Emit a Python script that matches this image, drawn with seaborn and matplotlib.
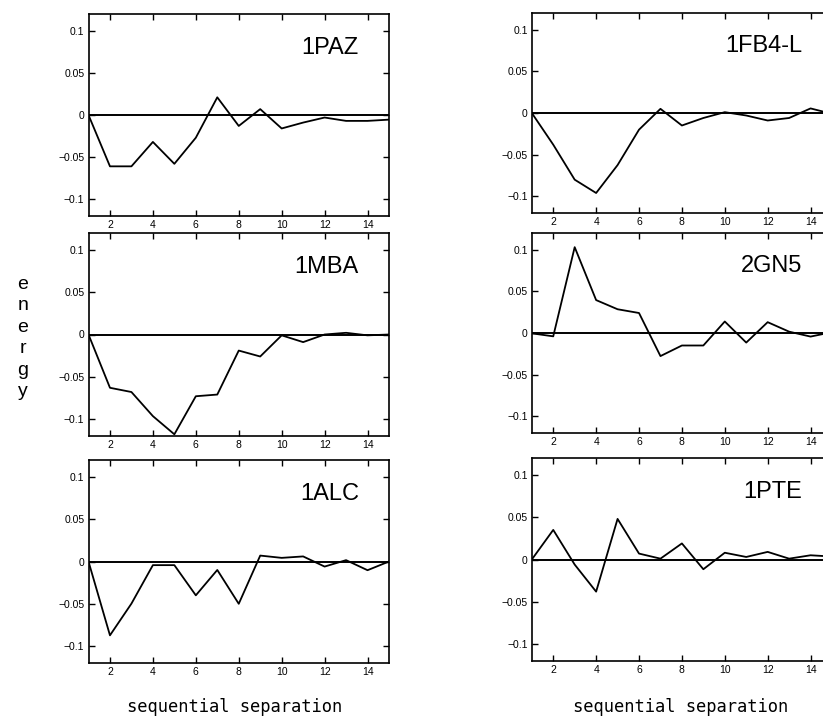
import numpy as np
import pandas as pd
import matplotlib
matplotlib.use("Agg")
import matplotlib.pyplot as plt
import seaborn as sns

sep = list(range(1, 16))

paz = [0, -0.061, -0.061, -0.032, -0.058, -0.027, 0.021, -0.013, 0.007, -0.016, -0.009, -0.003, -0.007, -0.007, -0.0055]
fb4 = [0, -0.038, -0.080, -0.096, -0.0625, -0.020, 0.005, -0.015, -0.006, 0.001, -0.003, -0.009, -0.006, 0.0055, -0.001]
mba = [0, -0.063, -0.068, -0.0965, -0.118, -0.073, -0.071, -0.019, -0.026, -0.001, -0.009, 0.0, 0.002, -0.001, 0.0]
gn5 = [-0.0004, -0.004, 0.103, 0.0395, 0.0285, 0.024, -0.0277, -0.015, -0.015, 0.0138, -0.0115, 0.013, 0.0016, -0.0043, 0.001]
alc = [0, -0.0873, -0.0498, -0.0043, -0.0043, -0.040, -0.010, -0.050, 0.007, 0.0043, 0.006, -0.006, 0.0016, -0.0103, 0.0]
pte = [0, 0.035, -0.006, -0.038, 0.048, 0.007, 0.001, 0.019, -0.0115, 0.008, 0.003, 0.009, 0.001, 0.005, 0.0035]

names = ["1PAZ", "1FB4-L", "1MBA", "2GN5", "1ALC", "1PTE"]
series = [paz, fb4, mba, gn5, alc, pte]

xticks = [2, 4, 6, 8, 10, 12, 14]
yticks = [-0.1, -0.05, 0, 0.05, 0.1]
ylabels = ["\u22120.1", "\u22120.05", "0", "0.05", "0.1"]

sns.set_style("ticks")
plt.rcParams['font.family'] = ['Liberation Sans', 'DejaVu Sans']
plt.rcParams['text.color'] = 'black'
plt.rcParams['axes.edgecolor'] = 'black'
plt.rcParams['xtick.color'] = 'black'
plt.rcParams['ytick.color'] = 'black'

fig = plt.figure(figsize=(8.23, 7.16), dpi=100)
W, H = 823, 716

# pixel boxes (left, top, right, bottom) per panel
boxes = [
    (88.5, 14, 389, 216), (531.8, 13, 832, 213),
    (88.5, 233, 389, 436), (531.8, 233, 832, 433),
    (88.5, 460, 389, 663), (531.8, 458, 832, 661),
]

for name, vals, (l, t, r, b) in zip(names, series, boxes):
    ax = fig.add_axes([l / W, (H - b) / H, (r - l) / W, (b - t) / H])
    df = pd.DataFrame({"sep": sep, "energy": vals})
    sns.lineplot(data=df, x="sep", y="energy", ax=ax, color="black", lw=1.3)
    ax.axhline(0, color="black", lw=1.4)
    ax.set_xlim(1, 15)
    ax.set_ylim(-0.12, 0.12)
    ax.set_xticks(xticks)
    ax.set_xticklabels([str(v) for v in xticks])
    ax.set_yticks(yticks)
    ax.set_yticklabels(ylabels)
    ax.tick_params(direction="in", top=True, right=True, length=4, width=1,
                   labelsize=7.5, pad=3)
    ax.set_xlabel("")
    ax.set_ylabel("")
    for s in ax.spines.values():
        s.set_linewidth(1.2)
    ax.text(13.6, 0.08, name, fontsize=17, ha="right", va="center")

fig.text(23 / W, (H - 338) / H, "e\nn\ne\nr\ng\ny", fontsize=14, ha="center",
         va="center", linespacing=1.34)
fig.text(234.7 / W, (H - 707) / H, "sequential separation", fontsize=12.3,
         family="DejaVu Sans Mono", ha="center", va="center")
fig.text(680.8 / W, (H - 707) / H, "sequential separation", fontsize=12.3,
         family="DejaVu Sans Mono", ha="center", va="center")

fig.savefig("out.png", dpi=100)
